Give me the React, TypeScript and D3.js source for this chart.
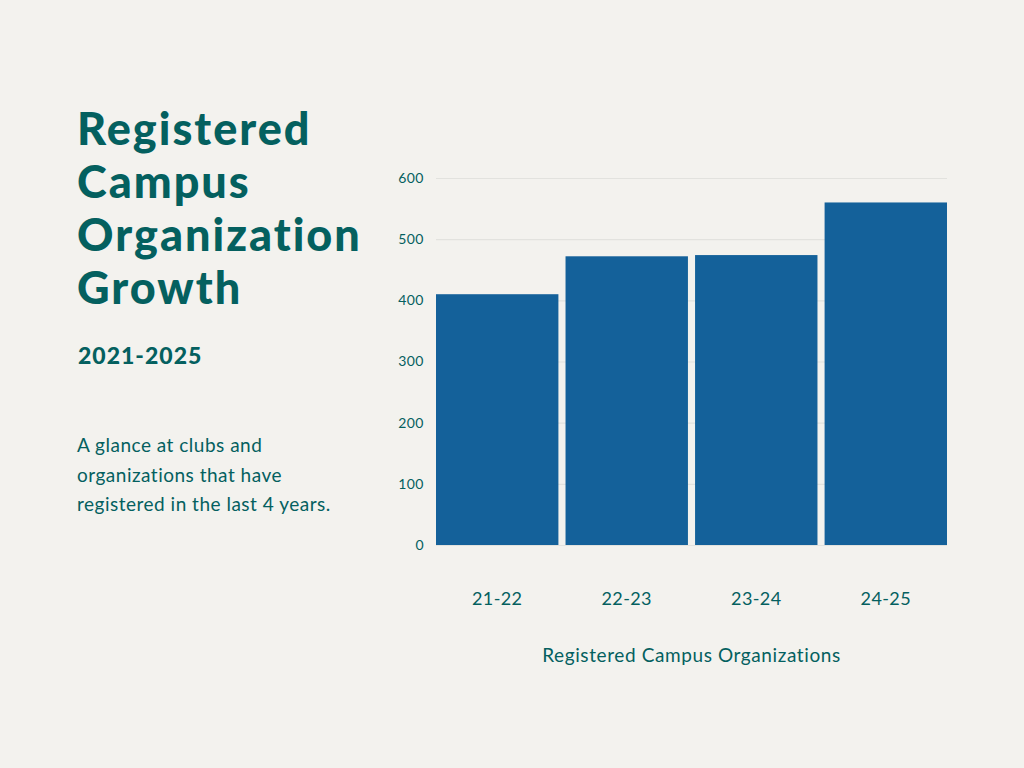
import { useRef, useEffect } from 'react';
import * as d3 from 'd3';

const seasons = ['21-22', '22-23', '23-24', '24-25'];
const orgCounts = [410, 472, 474, 560];
const yTicks = [0, 100, 200, 300, 400, 500, 600];
const titleLines = ['Registered', 'Campus', 'Organization', 'Growth'];
const descLines = ['A glance at clubs and', 'organizations that have', 'registered in the last 4 years.'];

const TEAL = '#04605f';
const BAR = '#14619a';
const BG = '#f3f2ee';
const FONT = 'Lato, "Open Sans", sans-serif';

export default function App() {
  const svgRef = useRef<SVGSVGElement>(null);

  useEffect(() => {
    if (!svgRef.current) return;
    const svg = d3.select(svgRef.current);
    svg.selectAll('*').remove();

    const width = 1024;
    const height = 768;
    const plot = { left: 436, right: 947, top: 178, bottom: 545 };

    svg.append('rect').attr('width', width).attr('height', height).attr('fill', BG);

    // Left text block
    titleLines.forEach((t, i) => {
      svg.append('text')
        .attr('x', 77).attr('y', 145 + i * 53)
        .attr('fill', TEAL)
        .style('font-family', FONT).style('font-weight', 900).style('font-size', '45px')
        .style('letter-spacing', '2px')
        .text(t);
    });
    svg.append('text')
      .attr('x', 78).attr('y', 364)
      .attr('fill', TEAL)
      .style('font-family', FONT).style('font-weight', 900).style('font-size', '23px')
      .style('letter-spacing', '1px')
      .text('2021-2025');
    descLines.forEach((t, i) => {
      svg.append('text')
        .attr('x', 77).attr('y', 452 + i * 29.5)
        .attr('fill', TEAL)
        .style('font-family', FONT).style('font-size', '19px')
        .style('letter-spacing', '0.5px')
        .text(t);
    });

    const x = d3.scaleBand<string>()
      .domain(seasons)
      .range([plot.left, plot.right])
      .paddingInner(0.055)
      .paddingOuter(0);
    const y = d3.scaleLinear().domain([0, 600]).range([plot.bottom, plot.top]);

    // Grid
    svg.append('g')
      .attr('transform', `translate(${plot.left},0)`)
      .call(d3.axisLeft(y).tickValues(yTicks).tickSize(-(plot.right - plot.left)).tickFormat(() => ''))
      .call((g) => {
        g.selectAll('line').attr('stroke', '#e2e2de').attr('stroke-width', 1.2);
        g.select('.domain').remove();
      });

    // Bars
    svg.append('g')
      .selectAll('rect')
      .data(seasons)
      .join('rect')
      .attr('x', (d) => x(d)!)
      .attr('y', (_, i) => y(orgCounts[i]))
      .attr('width', x.bandwidth())
      .attr('height', (_, i) => y(0) - y(orgCounts[i]))
      .attr('fill', BAR);

    // Y axis labels
    svg.append('g')
      .attr('transform', `translate(${plot.left},0)`)
      .call(d3.axisLeft(y).tickValues(yTicks).tickSize(0).tickPadding(12))
      .call((g) => {
        g.select('.domain').remove();
        g.selectAll('text')
          .attr('fill', TEAL)
          .style('font-family', FONT).style('font-size', '14px')
          .style('letter-spacing', '0.5px');
      });

    // X axis labels
    svg.append('g')
      .attr('transform', `translate(0,${plot.bottom})`)
      .call(d3.axisBottom(x).tickSize(0).tickPadding(47))
      .call((g) => {
        g.select('.domain').remove();
        g.selectAll('text')
          .attr('fill', TEAL)
          .style('font-family', FONT).style('font-size', '18px')
          .style('letter-spacing', '0.4px');
      });

    svg.append('text')
      .attr('x', (plot.left + plot.right) / 2).attr('y', 662)
      .attr('text-anchor', 'middle')
      .attr('fill', TEAL)
      .style('font-family', FONT).style('font-size', '19px')
      .style('letter-spacing', '0.6px')
      .text('Registered Campus Organizations');
  }, []);

  return (
    <div style={{ position: 'absolute', left: 0, top: 0 }}>
      <svg ref={svgRef} width={1024} height={768} style={{ display: 'block' }} />
    </div>
  );
}
